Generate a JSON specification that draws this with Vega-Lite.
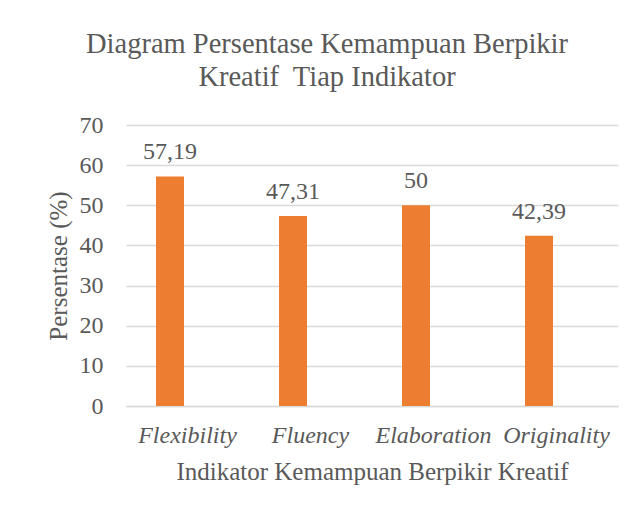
{
  "$schema": "https://vega.github.io/schema/vega-lite/v6.json",
  "width": 492,
  "height": 281,
  "autosize": {"type": "none"},
  "padding": {"left": 126, "top": 125, "right": 23, "bottom": 109},
  "background": "white",
  "title": {
    "text": ["Diagram Persentase Kemampuan Berpikir", "Kreatif\u00a0 Tiap Indikator"],
    "font": "Liberation Serif",
    "fontSize": 28.5,
    "fontWeight": "normal",
    "color": "#595959",
    "lineHeight": 33,
    "anchor": "middle",
    "frame": "group",
    "dx": -45,
    "offset": 22
  },
  "data": {
    "values": [
      {"indikator": "Flexibility", "persen": 57.19, "label": "57,19"},
      {"indikator": "Fluency", "persen": 47.31, "label": "47,31"},
      {"indikator": "Elaboration", "persen": 50, "label": "50"},
      {"indikator": "Originality", "persen": 42.39, "label": "42,39"}
    ]
  },
  "encoding": {
    "x": {
      "field": "indikator",
      "type": "nominal",
      "sort": null,
      "scale": {"paddingInner": 0, "paddingOuter": 0},
      "axis": {
        "title": "Indikator Kemampuan Berpikir Kreatif",
        "labelAngle": 0,
        "labelFont": "Liberation Serif",
        "labelFontStyle": "italic",
        "labelFontSize": 24,
        "labelColor": "#595959",
        "labelPadding": 17,
        "ticks": false,
        "domain": true,
        "domainColor": "#D9D9D9",
        "domainWidth": 1.3,
        "titleFont": "Liberation Serif",
        "titleFontSize": 25,
        "titleFontWeight": "normal",
        "titleColor": "#595959",
        "titlePadding": 12
      }
    },
    "y": {
      "field": "persen",
      "type": "quantitative",
      "scale": {"domain": [0, 70]},
      "axis": {
        "title": "Persentase (%)",
        "values": [0, 10, 20, 30, 40, 50, 60, 70],
        "grid": true,
        "gridColor": "#D9D9D9",
        "gridWidth": 1.3,
        "domain": false,
        "ticks": false,
        "labelFont": "Liberation Serif",
        "labelFontSize": 24,
        "labelColor": "#595959",
        "labelPadding": 23,
        "titleFont": "Liberation Serif",
        "titleFontSize": 25,
        "titleFontWeight": "normal",
        "titleColor": "#595959",
        "titlePadding": 8
      }
    }
  },
  "layer": [
    {"mark": {"type": "bar", "width": 28, "xOffset": -17.5, "color": "#ED7D31"}},
    {
      "mark": {"type": "text", "xOffset": -17.5, "dy": -17, "baseline": "alphabetic", "font": "Liberation Serif", "fontSize": 24, "color": "#595959"},
      "encoding": {"text": {"field": "label"}}
    }
  ],
  "config": {"view": {"stroke": null}}
}
